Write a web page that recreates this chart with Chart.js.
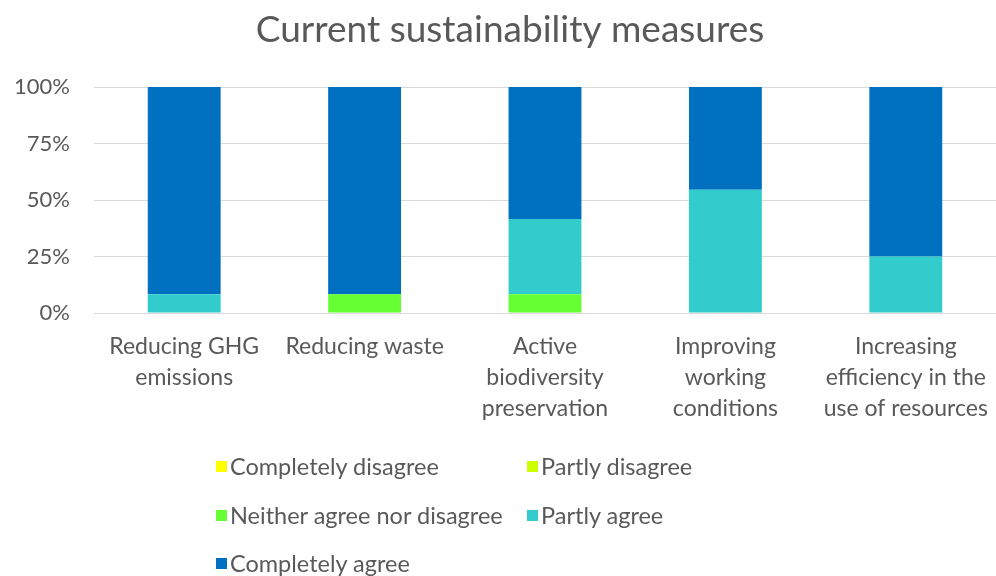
<!DOCTYPE html>
<html>
<head>
<meta charset="utf-8">
<script src="https://cdn.jsdelivr.net/npm/chart.js@4/dist/chart.umd.min.js"></script>
<style>
  html, body { margin: 0; padding: 0; background: #ffffff; }
  #wrap { position: relative; width: 996px; height: 576px; }
  #chart { position: absolute; left: 0; top: 0; }
  .lg { position: absolute; font-family: Lato, "Liberation Sans", sans-serif; font-size: 23.5px; color: #595959; white-space: nowrap; line-height: 24px; }
  .lg i { position: absolute; width: 11px; height: 11px; top: 7px; left: -14px; }
</style>
</head>
<body>
<div id="wrap">
  <canvas id="chart" width="996" height="576"></canvas>
</div>
<script>
// Survey answers per measure, in percent of respondents
const categories = [
  ["Reducing GHG", "emissions"],
  ["Reducing waste"],
  ["Active", "biodiversity", "preservation"],
  ["Improving", "working", "conditions"],
  ["Increasing", "efficiency in the", "use of resources"]
];
const completelyDisagree = [0, 0, 0, 0, 0];
const partlyDisagree     = [0, 0, 0, 0, 0];
const neitherAgree       = [0, 8.3, 8.3, 0, 0];
const partlyAgree        = [8.3, 0, 33.3, 54.5, 25];
const completelyAgree    = [91.7, 91.7, 58.4, 45.5, 75];
const yTicks = [0, 25, 50, 75, 100];

const seriesNames = ["Completely disagree", "Partly disagree", "Neither agree nor disagree", "Partly agree", "Completely agree"];
const seriesColors = ["#FFFF00", "#CCFF00", "#66FF33", "#33CCCC", "#0070C0"];
const seriesValues = [completelyDisagree, partlyDisagree, neitherAgree, partlyAgree, completelyAgree];

const FONT = "Lato, 'Liberation Sans', sans-serif";
const TEXT = "#595959";

// Title drawn slightly right of the canvas centre, over the category area
const offsetTitle = {
  id: "offsetTitle",
  afterDraw(chart) {
    const ctx = chart.ctx;
    ctx.save();
    ctx.fillStyle = TEXT;
    ctx.font = "37px " + FONT;
    ctx.textAlign = "center";
    ctx.textBaseline = "middle";
    ctx.fillText("Current sustainability measures", 510, 30);
    ctx.restore();
  }
};

new Chart(document.getElementById("chart"), {
  type: "bar",
  data: {
    labels: categories,
    datasets: seriesNames.map((name, i) => ({
      label: name,
      data: seriesValues[i],
      backgroundColor: seriesColors[i],
      borderWidth: 0,
      categoryPercentage: 1,
      barPercentage: 0.404
    }))
  },
  plugins: [offsetTitle],
  options: {
    responsive: false,
    animation: false,
    layout: { padding: { left: 0, right: 0, top: 87, bottom: 0 } },
    plugins: {
      legend: { display: false },
      tooltip: { enabled: false },
      title: { display: false }
    },
    scales: {
      x: {
        stacked: true,
        grid: { display: false, drawTicks: false },
        border: { display: false },
        ticks: {
          color: TEXT,
          font: { family: FONT, size: 23, lineHeight: 1.35 },
          padding: 18,
          maxRotation: 0,
          autoSkip: false
        },
        afterFit: (s) => { s.height = 263; s.paddingLeft = 0; s.paddingRight = 0; }
      },
      y: {
        stacked: true,
        min: 0,
        max: 100,
        afterBuildTicks: (s) => { s.ticks = yTicks.map(v => ({ value: v })); },
        grid: { color: "#D9D9D9", lineWidth: 1, drawTicks: false },
        border: { display: false },
        ticks: {
          color: TEXT,
          font: { family: FONT, size: 22 },
          padding: 24,
          callback: (v) => v + "%"
        },
        afterFit: (s) => { s.width = 94; }
      }
    }
  }
});

// Legend in two columns below the plot
const wrap = document.getElementById("wrap");
const legendPos = [[230, 466], [541, 466], [230, 515], [541, 515], [230, 563]];
seriesNames.forEach((name, i) => {
  const d = document.createElement("div");
  d.className = "lg";
  d.style.left = legendPos[i][0] + "px";
  d.style.top = (legendPos[i][1] - 12) + "px";
  const m = document.createElement("i");
  m.style.background = seriesColors[i];
  d.appendChild(m);
  d.appendChild(document.createTextNode(name));
  wrap.appendChild(d);
});
</script>
</body>
</html>
